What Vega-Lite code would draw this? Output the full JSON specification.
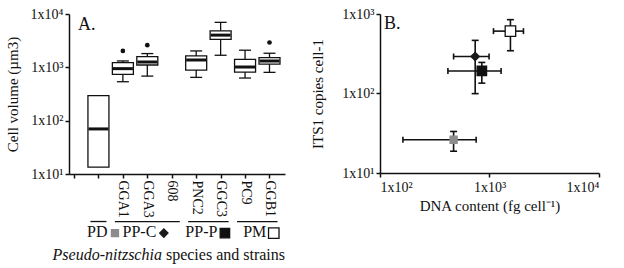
{
  "$schema": "https://vega.github.io/schema/vega-lite/v6.json",
  "background": "white",
  "padding": {"left": 5, "top": 7, "right": 5, "bottom": 5},
  "config": {
    "view": {"stroke": null},
    "font": "Liberation Serif",
    "axis": {
      "grid": false,
      "labelOverlap": false,
      "domainColor": "#111",
      "tickColor": "#111",
      "domainWidth": 1.5,
      "tickWidth": 1.5,
      "tickSize": 4,
      "labelFont": "Liberation Serif",
      "labelFontSize": 14,
      "labelColor": "#111",
      "titleFont": "Liberation Serif",
      "titleFontSize": 15,
      "titleFontWeight": "normal",
      "titleColor": "#111"
    },
    "text": {"font": "Liberation Serif", "color": "#111", "fontSize": 15}
  },
  "datasets": {
    "boxes": [
      {"strain": "PD", "pos": 1, "lower": null, "q1": 13.5, "median": 70, "q3": 295, "upper": null},
      {"strain": "GGA1", "pos": 2, "lower": 537, "q1": 738, "median": 945, "q3": 1227, "upper": 1317},
      {"strain": "GGA3", "pos": 3, "lower": 685, "q1": 1105, "median": 1259, "q3": 1592, "upper": 1811},
      {"strain": "PNC2", "pos": 5, "lower": 648, "q1": 889, "median": 1373, "q3": 1633, "upper": 2030},
      {"strain": "GGC3", "pos": 6, "lower": 1684, "q1": 3333, "median": 4018, "q3": 4840, "upper": 6970},
      {"strain": "PC9", "pos": 7, "lower": 630, "q1": 815, "median": 1014, "q3": 1416, "upper": 2094},
      {"strain": "GGB1", "pos": 8, "lower": 805, "q1": 1153, "median": 1315, "q3": 1524, "upper": 1837}
    ],
    "outliers": [
      {"strain": "GGA1", "pos": 2, "value": 2030},
      {"strain": "GGA3", "pos": 3, "value": 2600},
      {"strain": "GGB1", "pos": 8, "value": 2924}
    ],
    "groups": [
      {"group": "PD", "first": 1, "last": 1, "mid": 1},
      {"group": "PP-C", "first": 2, "last": 4, "mid": 3},
      {"group": "PP-P", "first": 5, "last": 6, "mid": 5.5},
      {"group": "PM", "first": 7, "last": 8, "mid": 7.5}
    ],
    "dna": [
      {"group": "PD", "dna": 470, "dnaLo": 162, "dnaHi": 755, "its": 26.2, "itsLo": 18.8, "itsHi": 33.3},
      {"group": "PP-C", "dna": 740, "dnaLo": 470, "dnaHi": 991, "its": 292, "itsLo": 99.6, "itsHi": 466},
      {"group": "PP-P", "dna": 851, "dnaLo": 417, "dnaHi": 1276, "its": 192, "itsLo": 135, "itsHi": 246},
      {"group": "PM", "dna": 1553, "dnaLo": 1087, "dnaHi": 2042, "its": 609, "itsLo": 345, "itsHi": 849}
    ]
  },
  "resolve": {"scale": {"x": "independent", "y": "independent"}},
  "spacing": 24,
  "hconcat": [
    {
      "width": 216,
      "height": 160,
      "layer": [
        {
          "data": {"name": "boxes"},
          "mark": {"type": "rule", "color": "#111", "strokeWidth": 1.3},
          "encoding": {
            "x": {
              "field": "pos", "type": "quantitative",
              "scale": {"domain": [0, 8.43], "nice": false, "zero": false},
              "axis": {"values": [0, 1, 2, 3, 4, 5, 6, 7, 8], "labelExpr": "['', '', 'GGA1', 'GGA3', '608', 'PNC2', 'GGC3', 'PC9', 'GGB1'][datum.value]", "labelAngle": 90, "labelAlign": "left", "labelBaseline": "middle", "labelOverlap": false, "labelBound": false, "labelFlush": false, "labelPadding": 2, "title": null}
            },
            "y": {
              "field": "lower", "type": "quantitative",
              "scale": {"type": "log", "domain": [10, 10000], "nice": false},
              "axis": {
                "values": [10, 100, 1000, 10000],
                "labelExpr": "datum.value == 10 ? '1x10¹' : datum.value == 100 ? '1x10²' : datum.value == 1000 ? '1x10³' : '1x10⁴'",
                "title": "Cell volume (µm3)", "titlePadding": 10, "labelPadding": 2
              }
            },
            "y2": {"field": "q1"}
          }
        },
        {
          "data": {"name": "boxes"},
          "mark": {"type": "rule", "color": "#111", "strokeWidth": 1.3},
          "encoding": {
            "x": {"field": "pos", "type": "quantitative", "axis": {"values": [0, 1, 2, 3, 4, 5, 6, 7, 8], "labelExpr": "['', '', 'GGA1', 'GGA3', '608', 'PNC2', 'GGC3', 'PC9', 'GGB1'][datum.value]", "labelAngle": 90, "labelAlign": "left", "labelBaseline": "middle", "labelOverlap": false, "labelBound": false, "labelFlush": false, "labelPadding": 2, "title": null}},
            "y": {"field": "q3", "type": "quantitative"},
            "y2": {"field": "upper"}
          }
        },
        {
          "data": {"name": "boxes"},
          "mark": {"type": "tick", "orient": "horizontal", "size": 12, "thickness": 1.3, "color": "#111", "opacity": 1},
          "encoding": {
            "x": {"field": "pos", "type": "quantitative", "axis": {"values": [0, 1, 2, 3, 4, 5, 6, 7, 8], "labelExpr": "['', '', 'GGA1', 'GGA3', '608', 'PNC2', 'GGC3', 'PC9', 'GGB1'][datum.value]", "labelAngle": 90, "labelAlign": "left", "labelBaseline": "middle", "labelOverlap": false, "labelBound": false, "labelFlush": false, "labelPadding": 2, "title": null}},
            "y": {"field": "lower", "type": "quantitative"}
          }
        },
        {
          "data": {"name": "boxes"},
          "mark": {"type": "tick", "orient": "horizontal", "size": 12, "thickness": 1.3, "color": "#111", "opacity": 1},
          "encoding": {
            "x": {"field": "pos", "type": "quantitative", "axis": {"values": [0, 1, 2, 3, 4, 5, 6, 7, 8], "labelExpr": "['', '', 'GGA1', 'GGA3', '608', 'PNC2', 'GGC3', 'PC9', 'GGB1'][datum.value]", "labelAngle": 90, "labelAlign": "left", "labelBaseline": "middle", "labelOverlap": false, "labelBound": false, "labelFlush": false, "labelPadding": 2, "title": null}},
            "y": {"field": "upper", "type": "quantitative"}
          }
        },
        {
          "data": {"name": "boxes"},
          "mark": {"type": "bar", "width": 21, "fill": "white", "stroke": "#111", "strokeWidth": 1.3},
          "encoding": {
            "x": {"field": "pos", "type": "quantitative", "axis": {"values": [0, 1, 2, 3, 4, 5, 6, 7, 8], "labelExpr": "['', '', 'GGA1', 'GGA3', '608', 'PNC2', 'GGC3', 'PC9', 'GGB1'][datum.value]", "labelAngle": 90, "labelAlign": "left", "labelBaseline": "middle", "labelOverlap": false, "labelBound": false, "labelFlush": false, "labelPadding": 2, "title": null}},
            "y": {"field": "q1", "type": "quantitative"},
            "y2": {"field": "q3"}
          }
        },
        {
          "data": {"name": "boxes"},
          "mark": {"type": "tick", "orient": "horizontal", "size": 20, "thickness": 3, "color": "#111", "opacity": 1},
          "encoding": {
            "x": {"field": "pos", "type": "quantitative", "axis": {"values": [0, 1, 2, 3, 4, 5, 6, 7, 8], "labelExpr": "['', '', 'GGA1', 'GGA3', '608', 'PNC2', 'GGC3', 'PC9', 'GGB1'][datum.value]", "labelAngle": 90, "labelAlign": "left", "labelBaseline": "middle", "labelOverlap": false, "labelBound": false, "labelFlush": false, "labelPadding": 2, "title": null}},
            "y": {"field": "median", "type": "quantitative"}
          }
        },
        {
          "data": {"name": "outliers"},
          "mark": {"type": "point", "shape": "circle", "filled": true, "size": 22, "color": "#111", "opacity": 1},
          "encoding": {
            "x": {"field": "pos", "type": "quantitative", "axis": {"values": [0, 1, 2, 3, 4, 5, 6, 7, 8], "labelExpr": "['', '', 'GGA1', 'GGA3', '608', 'PNC2', 'GGC3', 'PC9', 'GGB1'][datum.value]", "labelAngle": 90, "labelAlign": "left", "labelBaseline": "middle", "labelOverlap": false, "labelBound": false, "labelFlush": false, "labelPadding": 2, "title": null}},
            "y": {"field": "value", "type": "quantitative"}
          }
        },
        {
          "data": {"values": [{"panel": "A."}]},
          "mark": {"type": "text", "align": "left", "baseline": "top", "dx": 4, "dy": 2, "fontSize": 18},
          "encoding": {
            "x": {"datum": 0, "axis": {"values": [0, 1, 2, 3, 4, 5, 6, 7, 8], "labelExpr": "['', '', 'GGA1', 'GGA3', '608', 'PNC2', 'GGC3', 'PC9', 'GGB1'][datum.value]", "labelAngle": 90, "labelAlign": "left", "labelBaseline": "middle", "labelOverlap": false, "labelBound": false, "labelFlush": false, "labelPadding": 2, "title": null}},
            "y": {"datum": 10000},
            "text": {"field": "panel"}
          }
        },
        {
          "data": {"name": "groups"},
          "mark": {"type": "rule", "color": "#111", "strokeWidth": 1.3, "xOffset": -8, "x2Offset": 8},
          "encoding": {
            "x": {"field": "first", "type": "quantitative", "axis": {"values": [0, 1, 2, 3, 4, 5, 6, 7, 8], "labelExpr": "['', '', 'GGA1', 'GGA3', '608', 'PNC2', 'GGC3', 'PC9', 'GGB1'][datum.value]", "labelAngle": 90, "labelAlign": "left", "labelBaseline": "middle", "labelOverlap": false, "labelBound": false, "labelFlush": false, "labelPadding": 2, "title": null}},
            "x2": {"field": "last"},
            "y": {"datum": 1.285}
          }
        },
        {
          "data": {"name": "groups"},
          "mark": {"type": "text", "align": "right", "baseline": "alphabetic", "dx": 9, "fontSize": 16},
          "encoding": {
            "x": {"field": "mid", "type": "quantitative", "axis": {"values": [0, 1, 2, 3, 4, 5, 6, 7, 8], "labelExpr": "['', '', 'GGA1', 'GGA3', '608', 'PNC2', 'GGC3', 'PC9', 'GGB1'][datum.value]", "labelAngle": 90, "labelAlign": "left", "labelBaseline": "middle", "labelOverlap": false, "labelBound": false, "labelFlush": false, "labelPadding": 2, "title": null}},
            "y": {"datum": 0.658},
            "text": {"field": "group"}
          }
        },
        {
          "data": {"name": "groups"},
          "mark": {"type": "point", "filled": true, "strokeWidth": 1.3, "opacity": 1, "xOffset": 16.5},
          "encoding": {
            "x": {"field": "mid", "type": "quantitative", "axis": {"values": [0, 1, 2, 3, 4, 5, 6, 7, 8], "labelExpr": "['', '', 'GGA1', 'GGA3', '608', 'PNC2', 'GGC3', 'PC9', 'GGB1'][datum.value]", "labelAngle": 90, "labelAlign": "left", "labelBaseline": "middle", "labelOverlap": false, "labelBound": false, "labelFlush": false, "labelPadding": 2, "title": null}},
            "y": {"datum": 0.78},
            "shape": {"field": "group", "type": "nominal", "scale": {"domain": ["PD", "PP-C", "PP-P", "PM"], "range": ["square", "diamond", "square", "square"]}, "legend": null},
            "fill": {"field": "group", "type": "nominal", "scale": {"domain": ["PD", "PP-C", "PP-P", "PM"], "range": ["#8c8c8c", "#1a1a1a", "#111111", "#ffffff"]}, "legend": null},
            "stroke": {"field": "group", "type": "nominal", "scale": {"domain": ["PD", "PP-C", "PP-P", "PM"], "range": ["#8c8c8c", "#1a1a1a", "#111111", "#111111"]}, "legend": null},
            "size": {"field": "group", "type": "nominal", "scale": {"domain": ["PD", "PP-C", "PP-P", "PM"], "range": [50, 110, 40, 55]}, "legend": null}
          }
        },
        {
          "data": {"values": [{"t": "Pseudo-nitzschia"}]},
          "mark": {"type": "text", "align": "right", "baseline": "alphabetic", "fontStyle": "italic", "dx": -2, "fontSize": 16},
          "encoding": {
            "x": {"datum": 3.68, "axis": {"values": [0, 1, 2, 3, 4, 5, 6, 7, 8], "labelExpr": "['', '', 'GGA1', 'GGA3', '608', 'PNC2', 'GGC3', 'PC9', 'GGB1'][datum.value]", "labelAngle": 90, "labelAlign": "left", "labelBaseline": "middle", "labelOverlap": false, "labelBound": false, "labelFlush": false, "labelPadding": 2, "title": null}},
            "y": {"datum": 0.244},
            "text": {"field": "t"}
          }
        },
        {
          "data": {"values": [{"t": "species and strains"}]},
          "mark": {"type": "text", "align": "left", "baseline": "alphabetic", "dx": 2, "fontSize": 16},
          "encoding": {
            "x": {"datum": 3.68, "axis": {"values": [0, 1, 2, 3, 4, 5, 6, 7, 8], "labelExpr": "['', '', 'GGA1', 'GGA3', '608', 'PNC2', 'GGC3', 'PC9', 'GGB1'][datum.value]", "labelAngle": 90, "labelAlign": "left", "labelBaseline": "middle", "labelOverlap": false, "labelBound": false, "labelFlush": false, "labelPadding": 2, "title": null}},
            "y": {"datum": 0.244},
            "text": {"field": "t"}
          }
        }
      ]
    },
    {
      "width": 219,
      "height": 159,
      "data": {"name": "dna"},
      "layer": [
        {
          "mark": {"type": "rule", "color": "#111", "strokeWidth": 1.6},
          "encoding": {
            "x": {
              "field": "dnaLo", "type": "quantitative",
              "scale": {"type": "log", "domain": [100, 10000], "nice": false},
              "axis": {
                "values": [100, 1000, 10000],
                "labelExpr": "datum.value == 100 ? '1x10²' : datum.value == 1000 ? '1x10³' : '1x10⁴'",
                "title": "DNA content (fg cell⁻¹)", "labelPadding": 3, "titlePadding": 4
              }
            },
            "x2": {"field": "dnaHi"},
            "y": {
              "field": "its", "type": "quantitative",
              "scale": {"type": "log", "domain": [10, 1000], "nice": false},
              "axis": {
                "values": [10, 100, 1000],
                "labelExpr": "datum.value == 10 ? '1x10¹' : datum.value == 100 ? '1x10²' : '1x10³'",
                "title": "ITS1 copies cell-1", "titlePadding": 16, "labelPadding": 2
              }
            }
          }
        },
        {
          "mark": {"type": "rule", "color": "#111", "strokeWidth": 1.6},
          "encoding": {
            "x": {"field": "dna", "type": "quantitative"},
            "y": {"field": "itsLo", "type": "quantitative"},
            "y2": {"field": "itsHi"}
          }
        },
        {
          "mark": {"type": "tick", "orient": "vertical", "size": 6, "thickness": 1.6, "color": "#111", "opacity": 1},
          "encoding": {
            "x": {"field": "dnaLo", "type": "quantitative"},
            "y": {"field": "its", "type": "quantitative"}
          }
        },
        {
          "mark": {"type": "tick", "orient": "vertical", "size": 6, "thickness": 1.6, "color": "#111", "opacity": 1},
          "encoding": {
            "x": {"field": "dnaHi", "type": "quantitative"},
            "y": {"field": "its", "type": "quantitative"}
          }
        },
        {
          "mark": {"type": "tick", "orient": "horizontal", "size": 7, "thickness": 1.6, "color": "#111", "opacity": 1},
          "encoding": {
            "x": {"field": "dna", "type": "quantitative"},
            "y": {"field": "itsLo", "type": "quantitative"}
          }
        },
        {
          "mark": {"type": "tick", "orient": "horizontal", "size": 7, "thickness": 1.6, "color": "#111", "opacity": 1},
          "encoding": {
            "x": {"field": "dna", "type": "quantitative"},
            "y": {"field": "itsHi", "type": "quantitative"}
          }
        },
        {
          "mark": {"type": "point", "filled": true, "strokeWidth": 1.3, "opacity": 1},
          "encoding": {
            "x": {"field": "dna", "type": "quantitative"},
            "y": {"field": "its", "type": "quantitative"},
            "shape": {"field": "group", "type": "nominal", "scale": {"domain": ["PD", "PP-C", "PP-P", "PM"], "range": ["square", "diamond", "square", "square"]}, "legend": null},
            "fill": {"field": "group", "type": "nominal", "scale": {"domain": ["PD", "PP-C", "PP-P", "PM"], "range": ["#8c8c8c", "#1a1a1a", "#111111", "#ffffff"]}, "legend": null},
            "stroke": {"field": "group", "type": "nominal", "scale": {"domain": ["PD", "PP-C", "PP-P", "PM"], "range": ["#8c8c8c", "#1a1a1a", "#111111", "#111111"]}, "legend": null},
            "size": {"field": "group", "type": "nominal", "scale": {"domain": ["PD", "PP-C", "PP-P", "PM"], "range": [70, 100, 70, 64]}, "legend": null}
          }
        },
        {
          "data": {"values": [{"panel": "B."}]},
          "mark": {"type": "text", "align": "left", "baseline": "top", "dx": 4, "dy": 1, "fontSize": 18},
          "encoding": {
            "x": {"datum": 100},
            "y": {"datum": 1000},
            "text": {"field": "panel"}
          }
        }
      ]
    }
  ]
}
